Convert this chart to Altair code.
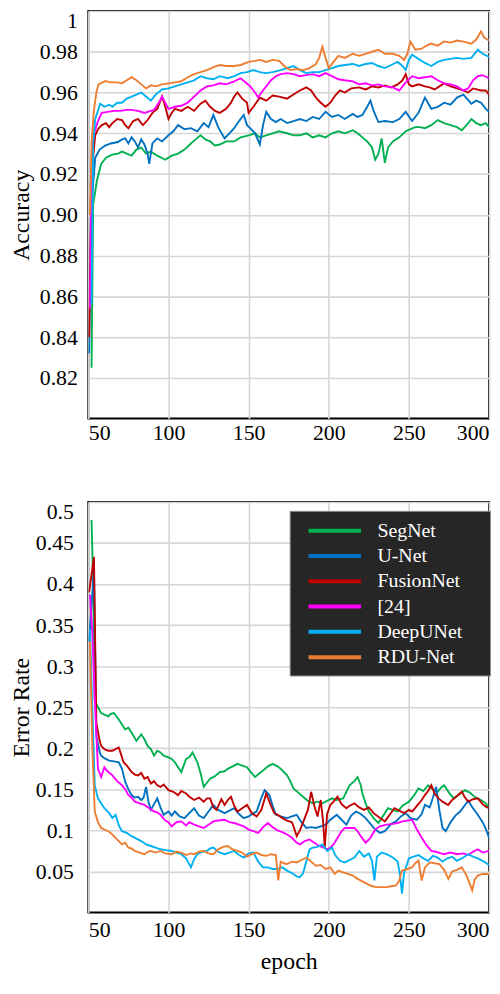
import altair as alt
import pandas as pd

SERIES = ["SegNet", "U-Net", "FusionNet", "[24]", "DeepUNet", "RDU-Net"]
COLORS = ["#00b050", "#0070c0", "#c00000", "#ff00ff", "#00b0f0", "#ed7d31"]

X_TICKS = [50, 100, 150, 200, 250, 300]
ACC_TICKS = [0.82, 0.84, 0.86, 0.88, 0.90, 0.92, 0.94, 0.96, 0.98, 1.0]
ERR_TICKS = [0.05, 0.1, 0.15, 0.2, 0.25, 0.3, 0.35, 0.4, 0.45, 0.5]

ACC_SEGNET = [(52, 0.825), (53, 0.905), (55.4, 0.917), (58, 0.925), (61, 0.928), (65, 0.9295), (68.5, 0.930), (71, 0.931), (74, 0.930), (77, 0.929), (80, 0.932), (83, 0.933), (86, 0.930), (89, 0.931), (93, 0.929), (98, 0.927), (102, 0.929), (106, 0.930), (110, 0.932), (114, 0.935), (117, 0.937), (120, 0.939), (123, 0.937), (126, 0.936), (129, 0.934), (132, 0.9345), (136, 0.936), (141, 0.936), (145, 0.938), (150, 0.939), (154, 0.940), (157, 0.938), (161, 0.939), (165, 0.940), (169, 0.941), (174, 0.940), (178, 0.939), (182, 0.939), (186, 0.940), (190, 0.938), (194, 0.939), (198, 0.938), (202, 0.940), (206, 0.941), (210, 0.940), (215, 0.9415), (218, 0.940), (221, 0.938), (224, 0.936), (227, 0.933), (229, 0.927), (231, 0.930), (233, 0.9375), (235, 0.9255), (237, 0.933), (240, 0.936), (244, 0.938), (248, 0.941), (251, 0.942), (254, 0.943), (257, 0.943), (260, 0.9425), (264, 0.944), (268, 0.9465), (272, 0.945), (276, 0.944), (280, 0.943), (283, 0.9415), (286, 0.944), (289, 0.947), (292, 0.945), (295, 0.944), (298, 0.945), (300, 0.943)]
ACC_UNET = [(50.5, 0.832), (52, 0.905), (54.3, 0.928), (57, 0.932), (60.5, 0.934), (64, 0.935), (68.5, 0.9357), (71, 0.937), (73, 0.9375), (75, 0.935), (77, 0.938), (79, 0.936), (81, 0.933), (83, 0.937), (85, 0.9345), (87, 0.930), (88, 0.925), (90, 0.935), (93, 0.9375), (96, 0.936), (100, 0.939), (103, 0.941), (106, 0.944), (110, 0.942), (114, 0.9425), (118, 0.941), (122, 0.945), (125, 0.943), (128, 0.949), (131, 0.943), (135, 0.9375), (138, 0.940), (141, 0.9425), (144, 0.946), (147, 0.949), (149, 0.944), (151, 0.9425), (154, 0.940), (157, 0.9345), (159, 0.944), (161, 0.9505), (164, 0.947), (167, 0.9455), (170, 0.947), (174, 0.945), (178, 0.946), (182, 0.947), (186, 0.946), (190, 0.948), (194, 0.947), (198, 0.9505), (202, 0.948), (206, 0.949), (210, 0.947), (215, 0.9495), (218, 0.948), (221, 0.949), (224, 0.953), (226, 0.956), (228, 0.951), (231, 0.9455), (235, 0.946), (240, 0.9455), (244, 0.947), (248, 0.9505), (252, 0.946), (256, 0.950), (260, 0.9575), (264, 0.952), (268, 0.953), (272, 0.955), (276, 0.954), (280, 0.9575), (284, 0.959), (289, 0.9545), (292, 0.956), (295, 0.955), (298, 0.952), (300, 0.9505)]
ACC_FUSION = [(50.5, 0.840), (52, 0.920), (54.3, 0.939), (56, 0.942), (58.4, 0.944), (61, 0.945), (63, 0.943), (65, 0.945), (68, 0.947), (71, 0.9465), (73, 0.944), (75, 0.9425), (78, 0.946), (81, 0.947), (84, 0.944), (87, 0.9465), (90, 0.950), (93, 0.952), (96, 0.958), (98, 0.953), (100, 0.947), (102, 0.950), (104, 0.952), (108, 0.951), (112, 0.953), (116, 0.951), (120, 0.9545), (123, 0.956), (126, 0.953), (129, 0.951), (132, 0.950), (136, 0.952), (139, 0.955), (141, 0.958), (143, 0.960), (146, 0.957), (149, 0.955), (150, 0.950), (153, 0.953), (157, 0.9575), (161, 0.956), (165, 0.9585), (169, 0.958), (174, 0.957), (178, 0.959), (182, 0.961), (186, 0.9625), (189, 0.961), (192, 0.9575), (195, 0.955), (198, 0.953), (201, 0.955), (204, 0.9585), (207, 0.961), (210, 0.960), (214, 0.962), (219, 0.9625), (223, 0.9615), (227, 0.963), (231, 0.9625), (235, 0.9635), (239, 0.9625), (243, 0.964), (246, 0.966), (248, 0.969), (250, 0.964), (252, 0.963), (256, 0.964), (260, 0.963), (263, 0.9625), (266, 0.9615), (269, 0.963), (272, 0.9645), (276, 0.963), (280, 0.962), (284, 0.961), (287, 0.960), (290, 0.962), (295, 0.961), (298, 0.961), (300, 0.959)]
ACC_REF24 = [(51, 0.854), (52, 0.925), (53.3, 0.939), (56, 0.946), (58.4, 0.950), (62, 0.9505), (66, 0.951), (70, 0.951), (74, 0.9515), (77, 0.9515), (81, 0.951), (85, 0.950), (89, 0.951), (91, 0.9515), (94, 0.955), (96, 0.958), (98, 0.955), (100, 0.952), (104, 0.953), (108, 0.9535), (112, 0.955), (116, 0.958), (120, 0.961), (124, 0.963), (128, 0.9635), (132, 0.9645), (136, 0.964), (141, 0.9655), (145, 0.967), (148, 0.965), (151, 0.963), (154, 0.960), (156, 0.9575), (158, 0.960), (161, 0.963), (164, 0.966), (167, 0.968), (170, 0.969), (174, 0.9695), (178, 0.969), (182, 0.968), (186, 0.9685), (190, 0.969), (194, 0.968), (198, 0.9695), (202, 0.968), (206, 0.9665), (210, 0.966), (215, 0.9655), (219, 0.964), (223, 0.9645), (227, 0.9635), (231, 0.964), (235, 0.963), (240, 0.9625), (244, 0.961), (248, 0.965), (252, 0.968), (256, 0.967), (260, 0.9675), (264, 0.968), (268, 0.966), (272, 0.9645), (276, 0.964), (280, 0.963), (284, 0.961), (287, 0.962), (290, 0.966), (293, 0.968), (296, 0.9685), (300, 0.967)]
ACC_DEEPUNET = [(52, 0.856), (53, 0.935), (54.3, 0.947), (57.4, 0.9545), (60, 0.953), (63, 0.954), (65, 0.953), (68, 0.955), (71, 0.955), (74, 0.957), (77, 0.958), (80, 0.959), (83, 0.960), (86, 0.958), (89, 0.956), (92, 0.959), (96, 0.9615), (100, 0.962), (104, 0.963), (108, 0.964), (112, 0.965), (116, 0.966), (120, 0.968), (124, 0.967), (128, 0.9665), (132, 0.968), (137, 0.967), (141, 0.968), (145, 0.9695), (149, 0.970), (153, 0.971), (157, 0.970), (161, 0.9695), (165, 0.970), (170, 0.971), (174, 0.972), (178, 0.973), (182, 0.971), (186, 0.9695), (190, 0.970), (194, 0.970), (198, 0.971), (202, 0.972), (206, 0.973), (210, 0.9735), (215, 0.974), (219, 0.973), (223, 0.974), (227, 0.9745), (231, 0.973), (235, 0.972), (239, 0.9735), (243, 0.975), (246, 0.973), (248, 0.971), (250, 0.976), (252, 0.9785), (256, 0.9765), (260, 0.9745), (264, 0.973), (268, 0.975), (272, 0.976), (276, 0.9765), (280, 0.977), (284, 0.9765), (289, 0.977), (293, 0.981), (296, 0.979), (300, 0.9775)]
ACC_RDUNET = [(51, 0.900), (52, 0.935), (53.3, 0.950), (55, 0.960), (56.4, 0.964), (60.5, 0.9656), (64, 0.965), (68, 0.965), (71, 0.9645), (74, 0.966), (77, 0.9675), (80, 0.966), (83, 0.964), (86, 0.962), (89, 0.9635), (92, 0.963), (96, 0.964), (100, 0.9645), (104, 0.965), (108, 0.9655), (112, 0.9675), (116, 0.969), (120, 0.970), (124, 0.971), (128, 0.9725), (132, 0.9735), (136, 0.973), (141, 0.973), (145, 0.9735), (150, 0.975), (154, 0.9755), (157, 0.976), (161, 0.975), (165, 0.976), (169, 0.9755), (171, 0.974), (173, 0.9725), (176, 0.971), (180, 0.9715), (184, 0.971), (188, 0.972), (192, 0.974), (194, 0.977), (196, 0.9825), (198, 0.977), (200, 0.972), (203, 0.975), (206, 0.978), (210, 0.977), (215, 0.979), (219, 0.978), (223, 0.979), (227, 0.980), (231, 0.981), (235, 0.979), (240, 0.979), (244, 0.978), (247, 0.976), (249, 0.979), (251, 0.985), (254, 0.981), (258, 0.9815), (261, 0.983), (264, 0.984), (268, 0.983), (272, 0.985), (276, 0.9845), (280, 0.9855), (284, 0.985), (289, 0.984), (292, 0.986), (295, 0.990), (297, 0.987), (300, 0.9855)]

ERR_SEGNET = [(52, 0.478), (53, 0.400), (54, 0.259), (56, 0.250), (58, 0.243), (60, 0.241), (62.5, 0.239), (64, 0.242), (66, 0.243), (69, 0.235), (71, 0.229), (73, 0.223), (75, 0.225), (77, 0.219), (80, 0.209), (83, 0.217), (85, 0.211), (87, 0.203), (89, 0.199), (91, 0.191), (93, 0.197), (95, 0.195), (97, 0.191), (100, 0.189), (102, 0.187), (104, 0.183), (106, 0.177), (108, 0.171), (111, 0.187), (113, 0.189), (115, 0.195), (118, 0.183), (120, 0.170), (122, 0.153), (124, 0.158), (126, 0.163), (129, 0.166), (132, 0.171), (135, 0.172), (137, 0.175), (140, 0.178), (143, 0.181), (146, 0.179), (149, 0.177), (151, 0.172), (154, 0.165), (157, 0.170), (159, 0.173), (162, 0.178), (165, 0.181), (168, 0.178), (170, 0.175), (174, 0.167), (176, 0.160), (178, 0.151), (181, 0.146), (184, 0.141), (187, 0.136), (190, 0.133), (193, 0.135), (196, 0.133), (199, 0.136), (202, 0.139), (205, 0.137), (209, 0.139), (211, 0.147), (213, 0.155), (216, 0.160), (218, 0.165), (220, 0.155), (221, 0.145), (223, 0.133), (225, 0.123), (228, 0.115), (231, 0.109), (234, 0.118), (237, 0.127), (240, 0.125), (243, 0.123), (246, 0.130), (250, 0.135), (253, 0.142), (256, 0.151), (259, 0.148), (262, 0.155), (265, 0.150), (268, 0.147), (270, 0.152), (272, 0.155), (275, 0.146), (278, 0.139), (281, 0.143), (285, 0.149), (288, 0.146), (291, 0.141), (295, 0.137), (298, 0.133), (300, 0.127)]
ERR_UNET = [(50.5, 0.330), (53.5, 0.419), (54.5, 0.280), (55, 0.215), (57, 0.196), (58, 0.191), (60, 0.188), (63, 0.185), (66, 0.184), (69, 0.183), (71, 0.175), (73, 0.159), (75, 0.150), (77, 0.143), (79, 0.140), (81, 0.141), (83, 0.137), (84.5, 0.140), (86, 0.153), (87.5, 0.135), (89, 0.125), (91, 0.132), (93, 0.139), (95, 0.128), (97, 0.119), (100, 0.123), (102, 0.118), (104, 0.123), (107, 0.117), (110, 0.115), (113, 0.121), (116, 0.127), (119, 0.118), (122, 0.115), (125, 0.123), (128, 0.131), (131, 0.125), (135, 0.121), (138, 0.124), (141, 0.127), (144, 0.120), (147, 0.115), (150, 0.117), (153, 0.121), (155, 0.123), (158, 0.140), (160, 0.149), (163, 0.143), (165, 0.130), (167, 0.119), (170, 0.117), (174, 0.115), (177, 0.117), (180, 0.119), (183, 0.110), (186, 0.103), (189, 0.104), (192, 0.103), (195, 0.105), (198, 0.107), (201, 0.113), (205, 0.119), (208, 0.113), (211, 0.107), (214, 0.118), (217, 0.123), (220, 0.120), (223, 0.115), (226, 0.108), (229, 0.101), (232, 0.097), (235, 0.099), (239, 0.108), (242, 0.111), (245, 0.117), (248, 0.121), (251, 0.115), (255, 0.113), (258, 0.120), (260, 0.131), (263, 0.128), (265, 0.140), (267, 0.153), (269, 0.125), (271, 0.103), (273, 0.099), (276, 0.110), (279, 0.118), (282, 0.123), (285, 0.131), (287, 0.136), (290, 0.127), (293, 0.119), (296, 0.110), (298, 0.102), (300, 0.091)]
ERR_FUSION = [(50.5, 0.390), (53.5, 0.433), (54.5, 0.300), (55, 0.231), (57, 0.210), (58, 0.203), (60, 0.199), (62.5, 0.197), (65, 0.197), (67, 0.199), (69, 0.201), (70, 0.195), (72, 0.183), (74, 0.179), (77, 0.171), (79, 0.168), (81, 0.167), (83, 0.170), (85, 0.163), (87, 0.165), (89, 0.157), (91, 0.160), (93, 0.155), (95, 0.153), (97, 0.156), (100, 0.149), (103, 0.147), (106, 0.143), (108, 0.148), (111, 0.145), (113, 0.141), (116, 0.137), (119, 0.140), (122, 0.135), (124, 0.139), (126, 0.139), (128, 0.128), (130, 0.125), (133, 0.138), (135, 0.131), (137, 0.137), (139, 0.141), (141, 0.130), (143, 0.123), (146, 0.127), (149, 0.131), (152, 0.121), (155, 0.117), (158, 0.125), (161, 0.145), (164, 0.130), (166, 0.121), (169, 0.118), (171, 0.115), (174, 0.112), (177, 0.110), (178, 0.105), (180, 0.093), (182, 0.100), (185, 0.115), (187, 0.125), (189, 0.147), (191, 0.130), (193, 0.117), (195, 0.137), (196.5, 0.110), (197.5, 0.079), (199, 0.120), (201, 0.131), (203, 0.135), (205.5, 0.141), (208, 0.132), (211, 0.127), (213, 0.130), (216, 0.133), (219, 0.128), (222, 0.125), (225, 0.128), (228, 0.121), (232, 0.115), (235, 0.111), (238, 0.119), (241, 0.127), (244, 0.124), (247, 0.121), (250, 0.125), (252, 0.123), (255, 0.130), (258, 0.137), (260, 0.143), (262, 0.148), (264, 0.155), (266, 0.145), (268.5, 0.139), (271, 0.135), (274.5, 0.131), (277, 0.137), (280, 0.142), (283, 0.147), (285, 0.140), (287, 0.135), (290, 0.138), (293, 0.139), (296, 0.132), (298, 0.129), (300, 0.127)]
ERR_REF24 = [(51, 0.387), (52.5, 0.340), (54, 0.260), (56, 0.175), (58, 0.165), (60, 0.177), (62, 0.172), (65, 0.167), (68, 0.160), (71, 0.155), (73, 0.150), (75, 0.143), (77, 0.140), (79, 0.135), (82, 0.133), (85, 0.131), (88, 0.127), (91, 0.123), (93, 0.122), (95, 0.119), (98, 0.112), (100, 0.110), (102, 0.105), (105, 0.110), (108, 0.111), (111, 0.106), (113, 0.110), (116, 0.107), (119, 0.105), (122, 0.103), (125, 0.107), (128, 0.111), (131, 0.112), (135, 0.113), (138, 0.110), (141, 0.109), (144, 0.107), (147, 0.105), (150, 0.101), (153, 0.099), (156, 0.097), (159, 0.104), (162, 0.109), (165, 0.104), (168, 0.100), (171, 0.098), (174, 0.095), (177, 0.091), (180, 0.085), (182, 0.083), (185, 0.087), (188, 0.089), (191, 0.085), (194, 0.081), (197, 0.079), (199, 0.077), (201, 0.079), (203, 0.083), (205.5, 0.091), (208, 0.099), (210, 0.103), (213, 0.103), (216, 0.103), (218, 0.099), (220, 0.093), (223, 0.085), (226, 0.091), (229, 0.101), (232, 0.105), (236, 0.107), (240, 0.108), (243, 0.109), (246, 0.111), (249, 0.112), (252, 0.113), (255, 0.101), (258, 0.091), (261, 0.082), (264, 0.075), (267, 0.074), (270, 0.072), (272, 0.071), (276, 0.073), (280, 0.071), (284, 0.072), (287, 0.070), (290, 0.074), (293, 0.077), (296, 0.073), (300, 0.075)]
ERR_DEEPUNET = [(51, 0.345), (52.5, 0.250), (54, 0.155), (56, 0.139), (58, 0.133), (60, 0.127), (63, 0.121), (65, 0.115), (67, 0.119), (69, 0.106), (71, 0.099), (74, 0.097), (77, 0.093), (80, 0.090), (83, 0.087), (86, 0.083), (89, 0.081), (92, 0.079), (95, 0.077), (98, 0.076), (102, 0.075), (105, 0.073), (108, 0.071), (111, 0.066), (114, 0.055), (116, 0.065), (118, 0.071), (121, 0.074), (124, 0.075), (126, 0.078), (128, 0.079), (131, 0.074), (135, 0.071), (138, 0.073), (141, 0.075), (144, 0.070), (147, 0.067), (150, 0.072), (153, 0.073), (156, 0.062), (159, 0.055), (162, 0.055), (165, 0.053), (168, 0.053), (171, 0.055), (174, 0.051), (178, 0.047), (180, 0.044), (182, 0.043), (184, 0.048), (186, 0.062), (188, 0.077), (190, 0.079), (193, 0.080), (196, 0.083), (199, 0.075), (202, 0.079), (204, 0.070), (207, 0.063), (210, 0.061), (213, 0.064), (216, 0.067), (219, 0.075), (222, 0.068), (225, 0.072), (227, 0.063), (228.5, 0.039), (230, 0.068), (233, 0.073), (236, 0.071), (240, 0.067), (243, 0.062), (244.5, 0.045), (245.7, 0.023), (247, 0.048), (250, 0.066), (253, 0.068), (256, 0.070), (259, 0.066), (262, 0.063), (265, 0.069), (268, 0.067), (271, 0.062), (274, 0.066), (277, 0.068), (280, 0.063), (284, 0.067), (287, 0.071), (290, 0.068), (293, 0.066), (296, 0.063), (300, 0.058)]
ERR_RDUNET = [(51, 0.330), (52.5, 0.200), (54, 0.123), (56, 0.110), (58, 0.103), (60, 0.101), (62.5, 0.099), (65, 0.095), (67, 0.091), (69, 0.087), (71, 0.083), (73, 0.085), (75, 0.079), (77, 0.078), (79, 0.075), (82, 0.073), (85, 0.071), (87, 0.074), (89, 0.075), (92, 0.073), (95, 0.075), (98, 0.072), (102, 0.071), (105, 0.074), (108, 0.073), (111, 0.070), (114, 0.072), (116, 0.071), (119, 0.074), (122, 0.075), (125, 0.072), (128, 0.071), (131, 0.077), (134, 0.080), (137, 0.081), (140, 0.077), (143, 0.075), (146, 0.073), (149, 0.068), (152, 0.071), (155, 0.073), (158, 0.070), (161, 0.069), (164, 0.071), (167, 0.070), (168.5, 0.039), (170, 0.062), (172, 0.060), (174, 0.059), (177, 0.062), (180, 0.061), (183, 0.064), (186, 0.067), (189, 0.062), (192, 0.057), (195, 0.058), (198, 0.053), (201, 0.055), (203.7, 0.047), (206, 0.051), (209, 0.049), (212, 0.047), (215, 0.045), (218, 0.041), (221, 0.038), (224, 0.035), (227, 0.032), (230, 0.031), (233, 0.031), (236, 0.031), (239, 0.032), (242, 0.033), (244, 0.039), (245.6, 0.051), (249, 0.053), (252, 0.055), (254, 0.060), (256, 0.063), (258, 0.039), (260, 0.055), (263, 0.061), (266, 0.060), (269, 0.059), (272, 0.052), (274.6, 0.041), (277, 0.050), (280, 0.052), (283, 0.055), (286, 0.045), (288, 0.035), (289.5, 0.027), (291, 0.040), (293, 0.045), (296, 0.047), (300, 0.047)]

ACC_ALL = [ACC_SEGNET, ACC_UNET, ACC_FUSION, ACC_REF24, ACC_DEEPUNET, ACC_RDUNET]
ERR_ALL = [ERR_SEGNET, ERR_UNET, ERR_FUSION, ERR_REF24, ERR_DEEPUNET, ERR_RDUNET]


def to_frame(all_series):
    rows = []
    for order, (name, pts) in enumerate(zip(SERIES, all_series)):
        for e, v in pts:
            rows.append({"model": name, "k": order, "epoch": e, "value": v})
    return pd.DataFrame(rows)


acc_df = to_frame(ACC_ALL)
err_df = to_frame(ERR_ALL)

FONT = "Liberation Serif, Times New Roman, serif"
GRID = "#d6d6d6"

color_scale = alt.Scale(domain=SERIES, range=COLORS)
x_scale = alt.Scale(domain=[50, 300], nice=False, zero=False)


def x_axis(show_title, label_pad):
    kw = dict(
        values=X_TICKS, labelFlush=False, labelOverlap=False, ticks=False, tickSize=0,
        labelAlign={"condition": [{"test": "datum.value <= 50", "value": "left"},
                                  {"test": "datum.value >= 300", "value": "right"}],
                    "value": "center"},
        domain=False, grid=True, gridColor=GRID, gridWidth=1.6,
        labelFont=FONT, labelFontSize=22, labelColor="black", labelPadding=label_pad,
        format="d",
    )
    if show_title:
        kw.update(title="epoch", titleFont=FONT, titleFontSize=24, titleFontWeight="normal",
                  titleColor="black", titlePadding=9)
    else:
        kw.update(title=None)
    return alt.Axis(**kw)


def y_axis(title, values, label_expr, top_test, label_pad, title_pad):
    return alt.Axis(
        values=values, labelExpr=label_expr, labelFlush=False, labelOverlap=False,
        labelBaseline={"condition": {"test": top_test, "value": "top"}, "value": "middle"},
        ticks=False, tickSize=0, domain=False, grid=True, gridColor=GRID, gridWidth=1.6,
        labelFont=FONT, labelFontSize=22, labelColor="black", labelPadding=label_pad,
        title=title, titleFont=FONT, titleFontSize=24, titleFontWeight="normal",
        titleColor="black", titlePadding=title_pad,
    )


top = alt.Chart(acc_df).mark_line(strokeWidth=1.9, clip=True).encode(
    x=alt.X("epoch:Q", scale=x_scale, axis=x_axis(False, 4)),
    y=alt.Y("value:Q", scale=alt.Scale(domain=[0.80, 1.0], nice=False, zero=False),
            axis=y_axis("Accuracy", ACC_TICKS,
                        "datum.value >= 0.999 ? '1' : format(datum.value, '.2f')",
                        "datum.value >= 0.999", 11, 6)),
    color=alt.Color("model:N", scale=color_scale, legend=None),
    detail="k:O",
).properties(width=404, height=411)

legend = alt.Legend(
    orient="none", legendX=203, legendY=9,
    title="MMM", titleOrient="right", titleColor="#262626", titleFontSize=7,
    titlePadding=0, titleFont=FONT,
    fillColor="#262626", strokeColor="#8c8c8c", padding=8,
    symbolType="M-2.65,0H2.65", symbolSize=400, symbolStrokeWidth=4,
    symbolOffset=25.5, labelOffset=31, rowPadding=3.5,
    labelFont=FONT, labelFontSize=20, labelColor="white",
)

bottom = alt.Chart(err_df).mark_line(strokeWidth=1.9, clip=True).encode(
    x=alt.X("epoch:Q", scale=x_scale, axis=x_axis(True, 7)),
    y=alt.Y("value:Q", scale=alt.Scale(domain=[0, 0.5], nice=False, zero=False),
            axis=y_axis("Error Rate", ERR_TICKS, "format(datum.value, '~g')",
                        "datum.value >= 0.499", 15, 2)),
    color=alt.Color("model:N", scale=color_scale, legend=legend),
    detail="k:O",
).properties(width=404, height=414)

chart = alt.vconcat(top, bottom, spacing=56).resolve_legend(color="independent").properties(
    padding={"left": 0, "top": -3, "right": 0, "bottom": 0},
    background="white",
).configure_view(stroke="black", strokeWidth=2, fill="white")

chart.save("out.html", embed_options={"renderer": "svg", "actions": False})
